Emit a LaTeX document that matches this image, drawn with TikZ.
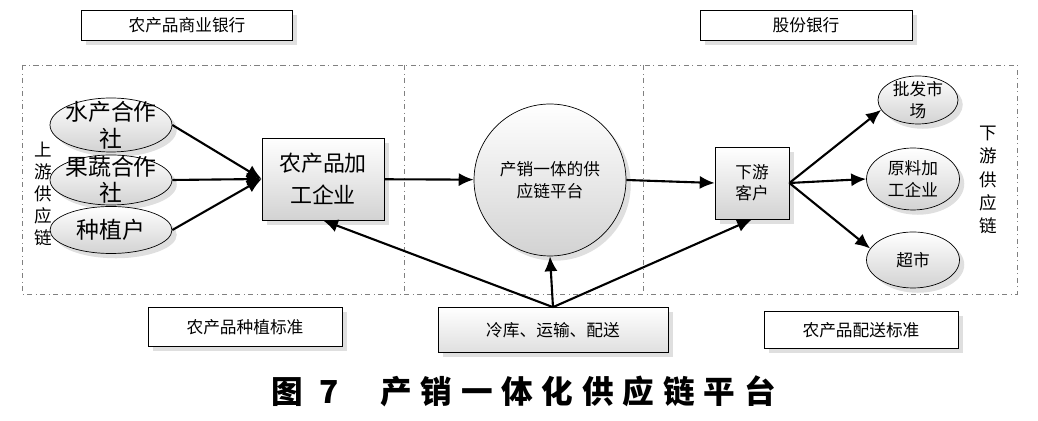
\documentclass[tikz,border=0pt]{standalone}
\usepackage{fontspec}
\setmainfont{Noto Sans CJK SC}
\newfontfamily\capfont[LetterSpace=28]{Noto Sans CJK SC}
\usetikzlibrary{arrows.meta}
\usetikzlibrary{shapes.geometric}
\usetikzlibrary{shadows}

\begin{document}
\begin{tikzpicture}[x=0.02cm,y=-0.02cm,
    lab/.style={draw,fill=white,drop shadow={opacity=0.25},font=\fontsize{9.5}{11}\selectfont},
    blk/.style={draw,top color=white,bottom color=gray!35,drop shadow={opacity=0.25},align=center},
    ell/.style={ellipse,draw,top color=white,bottom color=gray!35,drop shadow={opacity=0.25},inner sep=0pt},
    side/.style={align=center,font=\fontsize{10}{12.5}\selectfont},
    arr/.style={-{Latex[length=8.5pt,width=7.5pt]},line width=1.2pt}]
  \useasboundingbox (0,0) rectangle (1038,421);
  % frame
  \draw[gray,dash dot] (22,65) rectangle (1017,294);
  \draw[gray,dash dot] (404,65) -- (404,294);
  \draw[gray,dash dot] (643,65) -- (643,294);
  % banks
  \node[lab,minimum width=4.22cm,minimum height=0.6cm] (nbank) at (187,25) {农产品商业银行};
  \node[lab,minimum width=4.24cm,minimum height=0.6cm] (gbank) at (806,25) {股份银行};
  % upstream
  \node[ell,minimum width=2.44cm,minimum height=1.08cm,
        label={[align=center,font=\fontsize{13}{15.5}\selectfont]center:水产合作\\社}] (shui) at (111,125) {};
  \node[ell,minimum width=2.44cm,minimum height=1.0cm,
        label={[align=center,font=\fontsize{13}{15}\selectfont]center:果蔬合作\\社}] (guo) at (111,180) {};
  \node[ell,minimum width=2.44cm,minimum height=0.94cm,
        label={[font=\fontsize{13}{15}\selectfont]center:种植户}] (zhong) at (111,230) {};
  \node[side] (up) at (43,194) {上\\游\\供\\应\\链};
  \node[blk,minimum width=2.44cm,minimum height=1.64cm,font=\fontsize{12.5}{18}\selectfont] (jiagong) at (323,179) {农产品加\\工企业};
  % platform
  \node[blk,circle,minimum size=3.04cm,font=\fontsize{9.5}{12.5}\selectfont] (ping) at (550,180) {产销一体的供\\应链平台};
  % downstream
  \node[blk,minimum width=1.48cm,minimum height=1.44cm,font=\fontsize{9.5}{12}\selectfont] (kehu) at (752,183) {下游\\客户};
  \node[ell,minimum width=1.6cm,minimum height=0.96cm,
        label={[align=center,font=\fontsize{9.5}{12.5}\selectfont]center:批发市\\场}] (pifa) at (918,100) {};
  \node[ell,minimum width=1.86cm,minimum height=1.24cm,
        label={[align=center,font=\fontsize{9.5}{13}\selectfont]center:原料加\\工企业}] (yuanliao) at (913,179) {};
  \node[ell,minimum width=1.86cm,minimum height=1.12cm,
        label={[font=\fontsize{9.5}{12}\selectfont]center:超市}] (chaoshi) at (913,260) {};
  \node[side,font=\fontsize{10}{13.3}\selectfont] (down) at (988,180) {下\\游\\供\\应\\链};
  % standards
  \node[lab,minimum width=3.88cm,minimum height=0.78cm] (zhongzhi) at (245,327) {农产品种植标准};
  \node[lab,top color=white,bottom color=gray!25,minimum width=4.6cm,minimum height=0.9cm] (leng) at (553,330) {冷库、运输、配送};
  \node[lab,minimum width=3.88cm,minimum height=0.74cm] (peisong) at (861,330) {农产品配送标准};
  % flows
  \draw[arr] (shui.east) -- (jiagong.west);
  \draw[arr] (guo.east) -- (jiagong.west);
  \draw[arr] (zhong.east) -- (jiagong.west);
  \draw[arr] (jiagong) -- (ping);
  \draw[arr] (ping.east) -- (kehu.west);
  \draw[arr] (kehu.east) -- (pifa.195);
  \draw[arr] (kehu.east) -- (yuanliao.west);
  \draw[arr] (kehu.east) -- (chaoshi.165);
  \draw[arr] (leng.north) -- (jiagong.south);
  \draw[arr] (leng.north) -- (ping.south);
  \draw[arr] (leng.north) -- (kehu.south);
  % caption
  \node[font=\capfont\bfseries\fontsize{18}{18}\selectfont] (cap) at (524,391) {图 7\hspace{1.3em}产销一体化供应链平台};
\end{tikzpicture}
\end{document}
